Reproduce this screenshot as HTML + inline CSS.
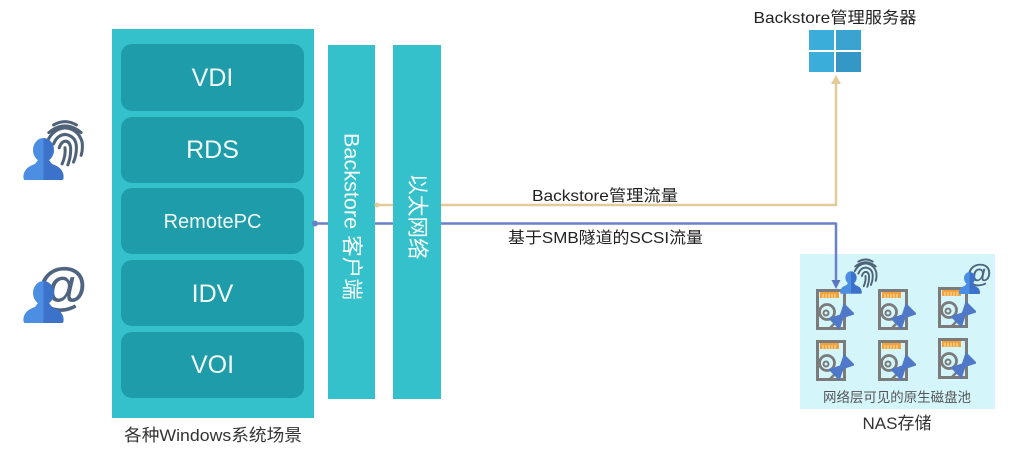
<!DOCTYPE html>
<html><head><meta charset="utf-8"><style>
html,body{margin:0;padding:0;background:#fff;}
svg{display:block;}
text{font-family:"Liberation Sans","Noto Sans CJK SC",sans-serif;}
</style></head><body>
<svg width="1024" height="453" viewBox="0 0 1024 453" xmlns="http://www.w3.org/2000/svg">
<defs>
  <linearGradient id="pg" x1="0" x2="1" y1="0" y2="0">
    <stop offset="0" stop-color="#4C8EE2"/><stop offset="0.5" stop-color="#4C8EE2"/>
    <stop offset="0.5" stop-color="#3C72C9"/><stop offset="1" stop-color="#3C72C9"/>
  </linearGradient>
  <symbol id="person" viewBox="0 0 41 42">
    <ellipse cx="20.5" cy="12" rx="10.5" ry="12" fill="url(#pg)"/>
    <path d="M2 42 Q0 42 0.5 37 Q2 29 12 26 L15 22 L26 22 L29 26 Q39 29 40.5 37 Q41 42 39 42 Z" fill="url(#pg)"/>
  </symbol>
  <symbol id="finger" viewBox="0 0 40 50">
    <g fill="none" stroke="#4E6278" stroke-width="3.2" stroke-linecap="round">
      <path d="M8 6 Q20 -1 32 6"/>
      <path d="M3 14 Q20 0 37 14"/>
      <path d="M2 22 Q8 10 20 9 Q34 10 38 24 Q39 32 37 38"/>
      <path d="M8 26 Q12 16 21 16 Q32 18 32 30 Q32 38 29 45"/>
      <path d="M14 30 Q16 23 21 23 Q26 24 26 32 Q26 40 23 48"/>
      <path d="M20 30 Q21 38 17 47"/>
    </g>
  </symbol>
  <symbol id="disk" viewBox="0 0 38 42">
    <rect x="1.5" y="1.5" width="27" height="38" fill="none" stroke="#7B7B7B" stroke-width="3"/>
    <rect x="4" y="3" width="19" height="6" fill="#F2A23A"/>
    <g stroke="#FFE2B0" stroke-width="1">
      <line x1="7" y1="5" x2="7" y2="9"/><line x1="10" y1="5" x2="10" y2="9"/><line x1="13" y1="5" x2="13" y2="9"/><line x1="16" y1="5" x2="16" y2="9"/><line x1="19" y1="5" x2="19" y2="9"/>
    </g>
    <circle cx="11" cy="23" r="7.5" fill="none" stroke="#7B7B7B" stroke-width="2.8"/>
    <circle cx="10" cy="24" r="2.5" fill="none" stroke="#7B7B7B" stroke-width="2"/>
    <g transform="translate(25,28) rotate(45)">
      <line x1="0" y1="8" x2="0" y2="17" stroke="#7B7B7B" stroke-width="2.5"/>
      <path d="M-8 -12 L8 -12 L2.5 -1 L8 10 L-8 10 L-2.5 -1 Z" fill="#5078C8"/>
    </g>
  </symbol>
</defs>

<!-- connectors (behind columns) -->
<line x1="376" y1="205" x2="836" y2="205" stroke="#E2CB98" stroke-width="2.5"/>
<line x1="836" y1="206" x2="836" y2="82" stroke="#E2CB98" stroke-width="2.5"/>
<path d="M831 84 L836 75 L841 84 Z" fill="#E2CB98"/>

<line x1="315" y1="223.5" x2="836" y2="223.5" stroke="#6A80C8" stroke-width="2.5"/>
<line x1="836" y1="222.5" x2="836" y2="281" stroke="#6A80C8" stroke-width="2.5"/>

<!-- main box -->
<rect x="112" y="29" width="202" height="389" fill="#35C1CB"/>
<g fill="#1E9CA9">
  <rect x="121" y="44" width="183" height="67" rx="11"/>
  <rect x="121" y="117" width="183" height="66" rx="11"/>
  <rect x="121" y="188" width="183" height="66" rx="11"/>
  <rect x="121" y="260" width="183" height="66" rx="11"/>
  <rect x="121" y="332" width="183" height="66" rx="11"/>
</g>
<g fill="#F2FBFC" text-anchor="middle">
  <text x="212.5" y="86" font-size="25">VDI</text>
  <text x="212.5" y="158" font-size="25">RDS</text>
  <text x="212.5" y="228" font-size="20">RemotePC</text>
  <text x="212.5" y="302" font-size="25">IDV</text>
  <text x="212.5" y="373" font-size="25">VOI</text>
</g>
<text x="213" y="441" font-size="17" fill="#333" text-anchor="middle" textLength="178" lengthAdjust="spacingAndGlyphs">各种Windows系统场景</text>

<!-- columns -->
<rect x="328" y="45" width="47" height="354" fill="#35C1CB"/>
<rect x="393" y="45" width="48" height="354" fill="#35C1CB"/>
<circle cx="315" cy="223.5" r="3" fill="#6A80C8"/>
<circle cx="377" cy="205" r="2.5" fill="#E2CB98"/>

<text transform="translate(351.5,216.5) rotate(90)" text-anchor="middle" dominant-baseline="central" font-size="21.5" fill="#F4FCFD" textLength="167" lengthAdjust="spacingAndGlyphs">Backstore 客户端</text>
<text transform="translate(417,216.5) rotate(90)" text-anchor="middle" dominant-baseline="central" font-size="21.5" fill="#F4FCFD">以太网络</text>

<text x="532" y="201" font-size="16" fill="#222" textLength="146" lengthAdjust="spacingAndGlyphs">Backstore管理流量</text>
<text x="508" y="243" font-size="16" fill="#222" textLength="195" lengthAdjust="spacingAndGlyphs">基于SMB隧道的SCSI流量</text>

<!-- server -->
<text x="835" y="23" font-size="16" fill="#222" text-anchor="middle" textLength="163" lengthAdjust="spacingAndGlyphs">Backstore管理服务器</text>
<rect x="809" y="30" width="25" height="20" fill="#3BADDA"/>
<rect x="836" y="30" width="25" height="20" fill="#3AA3CF"/>
<rect x="809" y="52" width="25" height="20" fill="#3BADDA"/>
<rect x="836" y="52" width="25" height="20" fill="#3597C6"/>

<!-- NAS -->
<rect x="800" y="254" width="195" height="155" fill="#D4F6FB"/>
<line x1="836" y1="254" x2="836" y2="281" stroke="#6A80C8" stroke-width="2.5"/>
<path d="M831.5 280 L836 289 L840.5 280 Z" fill="#5C74C4"/>
<use href="#disk" x="816" y="289" width="38" height="42"/>
<use href="#disk" x="878" y="289" width="38" height="42"/>
<use href="#disk" x="938" y="287" width="38" height="42"/>
<use href="#disk" x="816" y="340" width="38" height="42"/>
<use href="#disk" x="878" y="340" width="38" height="42"/>
<use href="#disk" x="938" y="338" width="38" height="42"/>
<use href="#finger" x="853" y="258" width="25" height="30"/>
<use href="#person" x="840" y="271" width="22" height="23"/>
<text x="979" y="282" font-size="26" font-weight="bold" fill="#4E6480" text-anchor="middle">@</text>
<use href="#person" x="958" y="272" width="23" height="22"/>
<text x="897" y="402" font-size="13.5" fill="#555" text-anchor="middle" textLength="148" lengthAdjust="spacingAndGlyphs">网络层可见的原生磁盘池</text>
<text x="897" y="429" font-size="17" fill="#333" text-anchor="middle">NAS存储</text>

<!-- users -->
<use href="#finger" x="46" y="119" width="38" height="48"/>
<use href="#person" x="23" y="138" width="41" height="42"/>
<text x="62" y="304" font-size="52" font-weight="bold" fill="#4E6480" text-anchor="middle">@</text>
<use href="#person" x="23" y="281" width="41" height="42"/>
</svg>
</body></html>
